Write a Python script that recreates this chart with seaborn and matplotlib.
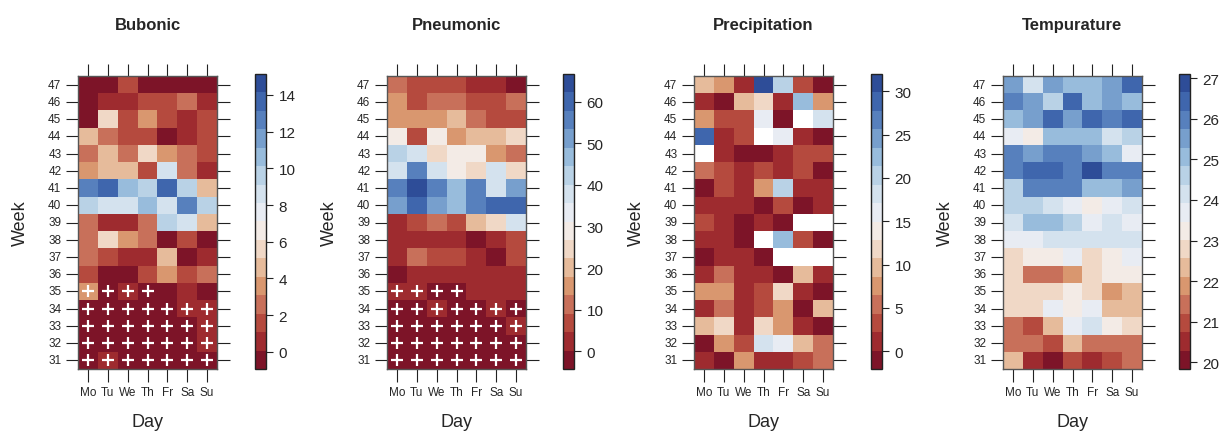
import matplotlib
matplotlib.use("Agg")
import matplotlib.pyplot as plt
from matplotlib.colors import ListedColormap
import numpy as np
import pandas as pd
import seaborn as sns

days = ["Mo", "Tu", "We", "Th", "Fr", "Sa", "Su"]
weeks = list(range(47, 30, -1))  # top row first

# values per week (47 at top ... 31 at bottom), columns Mo..Su
bubonic = [
    [0, 0, 2, 0, 0, 0, 0],
    [0, 1, 1, 2, 2, 3, 1],
    [0, 6, 2, 4, 2, 1, 2],
    [5, 3, 2, 2, 0, 1, 2],
    [3, 5, 3, 6, 4, 3, 2],
    [4, 5, 5, 2, 9, 3, 1],
    [13, 14, 11, 10, 14, 10, 5],
    [10, 9, 9, 11, 9, 13, 10],
    [3, 1, 1, 3, 10, 9, 5],
    [3, 6, 4, 3, 0, 2, 0],
    [3, 2, 1, 1, 5, 0, 1],
    [2, 0, 0, 2, 4, 2, 3],
    [4, 0, 1, 0, 0, 1, 0],
    [0, 0, 0, 0, 0, 1, 1],
    [0, 0, 0, 0, 0, 0, 1],
    [0, 0, 0, 0, 0, 0, 1],
    [0, 1, 0, 0, 0, 0, 0],
]

pneumonic = [
    [11, 7, 7, 7, 2, 2, 0],
    [16, 7, 11, 11, 7, 7, 11],
    [16, 16, 16, 20, 11, 7, 7],
    [29, 7, 29, 16, 20, 20, 24],
    [42, 38, 24, 29, 29, 16, 11],
    [38, 56, 38, 29, 24, 38, 24],
    [56, 64, 56, 47, 56, 38, 51],
    [51, 60, 51, 47, 56, 60, 60],
    [2, 7, 11, 7, 20, 24, 38],
    [2, 2, 2, 2, 0, 2, 7],
    [2, 11, 7, 7, 2, 0, 7],
    [0, 2, 2, 2, 2, 2, 2],
    [2, 2, 0, 0, 2, 2, 2],
    [0, 0, 2, 0, 0, 2, 0],
    [0, 0, 0, 0, 0, 0, 2],
    [0, 0, 0, 0, 0, 0, 0],
    [0, 0, 0, 0, 0, 0, 0],
]

nan = np.nan
precipitation = [
    [10, 7.5, 1, 31, 20, 3, 0],
    [1, 0, 10, 12, 1, 22.5, 7.5],
    [7.5, 3, 3, 16, 0, nan, 18],
    [29, 1, 3, nan, 16, 1, 0],
    [nan, 1, 0, 0, 1, 3, 3],
    [5, 3, 1, 3, 1, 3, 0],
    [0, 3, 1, 7.5, 20, 1, 1],
    [1, 1, 1, 0, 3, 0, 1],
    [3, 1, 0, 1, 0, nan, nan],
    [1, 1, 0, nan, 22.5, 3, 0],
    [0, 1, 1, 0, nan, nan, nan],
    [1, 5, 1, 1, 0, 10, 1],
    [7.5, 7.5, 1, 3, 12, 1, 0],
    [1, 5, 1, 3, 7.5, 0, 10],
    [10, 12, 1, 12, 7.5, 1, 0],
    [0, 7.5, 3, 18, 16, 10, 5],
    [1, 0, 7.5, 1, 1, 3, 5],
]

temperature = [
    [25.5, 24.2, 25.5, 25.1, 25.1, 25.5, 26.4],
    [26.0, 25.5, 24.6, 26.4, 25.1, 25.5, 25.1],
    [25.1, 25.5, 26.4, 25.5, 26.4, 26.0, 26.4],
    [23.7, 23.2, 25.1, 25.1, 25.1, 24.2, 24.6],
    [26.0, 25.5, 26.0, 26.0, 25.5, 25.1, 23.7],
    [26.0, 26.4, 26.4, 26.0, 26.9, 26.0, 26.0],
    [24.6, 26.0, 26.0, 26.0, 25.1, 25.1, 25.5],
    [24.6, 24.6, 24.2, 23.7, 23.2, 23.7, 24.2],
    [24.2, 25.1, 25.1, 24.6, 23.7, 24.2, 23.7],
    [23.7, 23.7, 24.2, 24.2, 24.2, 24.2, 24.2],
    [22.8, 23.2, 23.2, 23.7, 22.8, 23.2, 23.7],
    [22.8, 21.4, 21.4, 21.9, 22.8, 23.2, 23.2],
    [22.8, 22.8, 22.8, 23.2, 22.8, 21.9, 22.3],
    [22.8, 22.8, 23.7, 23.2, 23.7, 22.3, 22.3],
    [21.4, 21.0, 22.3, 23.7, 24.2, 23.2, 22.8],
    [21.4, 21.4, 21.0, 22.3, 21.4, 21.4, 21.4],
    [22.3, 20.5, 20.1, 21.0, 20.5, 21.0, 21.4],
]

# cells marked with "+" (week, day)
plus_cells = [(w, d) for w in (31, 32, 33, 34) for d in days] + \
             [(35, "Mo"), (35, "Tu"), (35, "We"), (35, "Th")]

panels = [
    ("Bubonic", bubonic, (-0.93, 15.14), range(0, 15, 2), True),
    ("Pneumonic", pneumonic, (-4.3, 66.7), range(0, 61, 10), True),
    ("Precipitation", precipitation, (-2.05, 32.0), range(0, 31, 5), False),
    ("Tempurature", temperature, (19.84, 27.1), range(20, 28), False),
]

colors = ["#7d1428", "#9e2b2f", "#b54a3e", "#c8705a", "#d9976f", "#e6bb9b",
          "#f0d8c6", "#f3ebe6", "#e8ecf3", "#d4e2ee", "#b9d2e6", "#98bcdc",
          "#779fcd", "#5780bd", "#3f66ad", "#2e4d98"]
cmap = ListedColormap(colors)

sns.set_style("white")
plt.rcParams["font.family"] = ["Liberation Sans", "DejaVu Sans"]

W, H = 1230, 435
fig = plt.figure(figsize=(W / 100, H / 100), dpi=100)


def box(x0, y0, x1, y1):
    return [x0 / W, 1 - y1 / H, (x1 - x0) / W, (y1 - y0) / H]


box_left = [78, 387, 694, 1003]
cbar_left = [255, 563, 871, 1179]

for i, (title, vals, (lo, hi), cticks, plus) in enumerate(panels):
    ax = fig.add_axes(box(box_left[i], 77, box_left[i] + 139, 370))
    cax = fig.add_axes(box(cbar_left[i], 75, cbar_left[i] + 11, 370))
    df = pd.DataFrame(vals, index=weeks, columns=days)
    sns.heatmap(df, ax=ax, cmap=cmap, vmin=lo, vmax=hi, cbar_ax=cax,
                square=False, linewidths=0)
    ax.set_facecolor("white")
    if plus:
        xs = [days.index(d) + 0.5 for w, d in plus_cells]
        ys = [weeks.index(w) + 0.5 for w, d in plus_cells]
        ax.scatter(xs, ys, marker="+", s=80, c="white", linewidths=1.6, zorder=3)
    for s in ax.spines.values():
        s.set_visible(True)
        s.set_color("#555555")
        s.set_linewidth(1.0)
    ax.tick_params(axis="both", which="both", direction="out", length=9, width=0.8,
                   top=True, right=True, bottom=True, left=True,
                   labeltop=False, labelright=False, labelsize=8.5, pad=3,
                   color="#222222")
    ax.set_yticklabels([str(w) for w in weeks], rotation=0)
    ax.set_xticklabels(days, rotation=0)
    ax.set_ylabel("Week", fontsize=13, labelpad=14)
    ax.set_xlabel("Day", fontsize=13, labelpad=11)
    ax.set_title(title, fontsize=12, fontweight="bold", pad=34)

    cb = ax.collections[0].colorbar
    cb.set_ticks(list(cticks))
    cb.set_ticklabels([str(t) for t in cticks])
    cb.outline.set_visible(True)
    cb.outline.set_edgecolor("#222222")
    cb.outline.set_linewidth(1.0)
    cax.tick_params(direction="out", length=5, width=0.8, labelsize=11, pad=4,
                    color="#222222")

fig.savefig("out.png", dpi=100)
